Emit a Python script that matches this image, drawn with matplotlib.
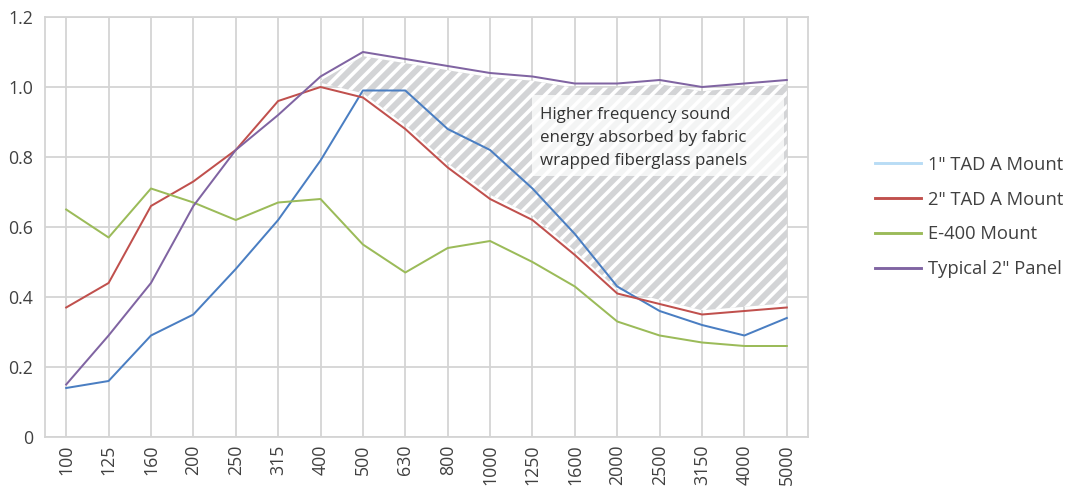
import matplotlib
matplotlib.use("Agg")
import matplotlib.pyplot as plt
from matplotlib.lines import Line2D
from matplotlib.patches import Rectangle
import numpy as np

# ---- data ----
freqs = ["100", "125", "160", "200", "250", "315", "400", "500", "630", "800",
         "1000", "1250", "1600", "2000", "2500", "3150", "4000", "5000"]
tad1 = [0.14, 0.16, 0.29, 0.35, 0.48, 0.62, 0.79, 0.99, 0.99, 0.88,
        0.82, 0.71, 0.58, 0.43, 0.36, 0.32, 0.29, 0.34]
tad2 = [0.37, 0.44, 0.66, 0.73, 0.82, 0.96, 1.00, 0.97, 0.88, 0.77,
        0.68, 0.62, 0.52, 0.41, 0.38, 0.35, 0.36, 0.37]
e400 = [0.65, 0.57, 0.71, 0.67, 0.62, 0.67, 0.68, 0.55, 0.47, 0.54,
        0.56, 0.50, 0.43, 0.33, 0.29, 0.27, 0.26, 0.26]
typical = [0.15, 0.29, 0.44, 0.66, 0.82, 0.92, 1.03, 1.10, 1.08, 1.06,
           1.04, 1.03, 1.01, 1.01, 1.02, 1.00, 1.01, 1.02]
series_names = ['1" TAD A Mount', '2" TAD A Mount', 'E-400 Mount', 'Typical 2" Panel']
line_colors = ["#4a7ec2", "#c0504d", "#9bbb59", "#8064a2"]
legend_colors = ["#b8dcf5", "#c0504d", "#9bbb59", "#8064a2"]

# shaded band (400 Hz .. 5000 Hz) between the typical panel and 2" TAD
band_start = 6
band_gap = 0.012
annotation = "Higher frequency sound\nenergy absorbed by fabric\nwrapped fiberglass panels"

# ---- figure ----
DPI = 80
plt.rcParams['font.family'] = ['Open Sans', 'DejaVu Sans']
plt.rcParams['hatch.linewidth'] = 3.2
fig = plt.figure(figsize=(1075 / DPI, 493 / DPI), dpi=DPI)
ax = fig.add_axes([45 / 1075, 1 - 437 / 493, (808 - 45) / 1075, (437 - 17) / 493])

x = np.arange(len(freqs))
grid_c = "#d4d4d4"

# band
xb = x[band_start:]
top = np.array(typical[band_start:]) - band_gap
bot = np.array(tad2[band_start:]) + band_gap
ax.fill_between(xb, bot, top, facecolor="#d3d4d6", edgecolor="white",
                hatch="//", linewidth=0, zorder=1)

for vals, c, name in zip([tad1, tad2, e400, typical], line_colors, series_names):
    ax.plot(x, vals, color=c, lw=1.8, label=name, zorder=3, solid_joinstyle='round')

# annotation box
ax.add_patch(Rectangle((10.98, 0.745), 5.95, 0.232, facecolor="white",
                       alpha=0.75, edgecolor="none", zorder=2))
ax.text(11.18, 0.943, annotation, fontsize=15.2, color="#333333",
        va="top", ha="left", linespacing=1.6, zorder=4)

ax.set_xlim(-0.5, len(freqs) - 0.5)
ax.set_ylim(0, 1.2)
ax.set_xticks(x)
ax.set_xticklabels(freqs, rotation=90, fontsize=16, color="#404040")
ax.set_yticks(np.arange(0, 1.21, 0.2))
ax.set_yticklabels(["0", "0.2", "0.4", "0.6", "0.8", "1.0", "1.2"],
                   fontsize=16, color="#404040")
ax.tick_params(axis="y", length=0, pad=11)
ax.tick_params(axis="x", length=0, pad=7)
ax.grid(True, color=grid_c, lw=1.6, zorder=0)
ax.set_axisbelow(True)
for s in ax.spines.values():
    s.set_color(grid_c)
    s.set_linewidth(1.6)

handles = [Line2D([], [], color=c, lw=2.6) for c in legend_colors]
fig.legend(handles, series_names, loc="center left",
           bbox_to_anchor=(875 / 1075, 1 - 217 / 493), frameon=False,
           fontsize=16.5, labelcolor="#404040", handlelength=2.5,
           handletextpad=0.4, labelspacing=0.92, borderpad=0, borderaxespad=0)

fig.savefig("out.png", dpi=DPI)
